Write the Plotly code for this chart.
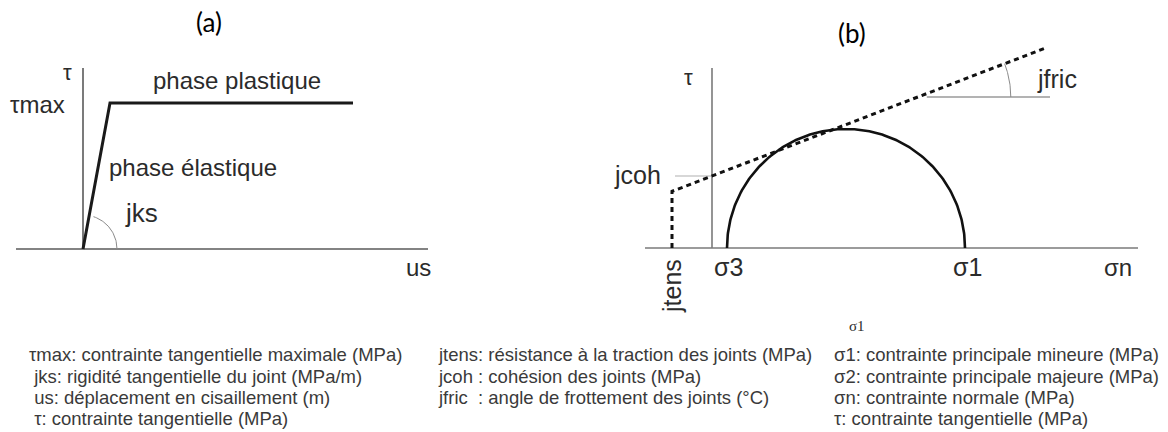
import numpy as np
import plotly.graph_objects as go

W, H = 1168, 432

# ---------------- Panel (a): tau vs us (diagram units) ----------------
a_us_axis = [-67, 345]
a_tau_axis = [0, 181]
a_us_curve = [0, 27, 270]
a_tau_curve = [0, 146, 146]
a_jks_radius = 34
a_jks_angle = 72

# ---------------- Panel (b): Mohr-Coulomb (diagram units) -------------
b_sn_axis = [-67, 426]
b_tau_axis = [0, 180]
sigma3 = 15
sigma1 = 253
jtens = -40
jcoh = 72
jfric_deg = 21
b_env_end = 335
b_jcoh_tick = [-37, 0]
b_jfric_level = 151
b_jfric_ref_end = 338
b_jfric_radius = 93

# Labels: text, x, y, anchor, size
a_labels = [
    ("τ", -16, 177, "center", 22),
    ("τmax", -46, 145, "center", 24),
    ("phase plastique", 154, 169, "center", 24),
    ("phase élastique", 24, 82, "left", 24),
    ("jks", 40, 36, "left", 26),
    ("us", 335, -18, "center", 24),
]
b_labels = [
    ("τ", -24, 171, "center", 22),
    ("jcoh", -75, 73, "center", 25),
    ("σ3", 16, -19, "center", 25),
    ("σ1", 255, -19, "center", 25),
    ("σn", 406, -19, "center", 24),
    ("jfric", 345, 169, "center", 25),
]
legend_col1 = ["τmax: contrainte tangentielle maximale (MPa)",
               " jks: rigidité tangentielle du joint (MPa/m)",
               " us: déplacement en cisaillement (m)",
               " τ: contrainte tangentielle (MPa)"]
legend_col2 = ["jtens: résistance à la traction des joints (MPa)",
               "jcoh : cohésion des joints (MPa)",
               "jfric  : angle de frottement des joints (°C)"]
legend_col3 = ["σ1: contrainte principale mineure (MPa)",
               "σ2: contrainte principale majeure (MPa)",
               "σn: contrainte normale (MPa)",
               "τ: contrainte tangentielle (MPa)"]
legend_x = [27, 436, 832]
legend_rows_y = [354, 376, 397, 418]

FONT = "Liberation Sans"
TXT = "#2b2b2b"
fig = go.Figure()

def line(x, y, ax, color, width, dash=None):
    xa, ya = ("x", "y") if ax == "a" else ("x2", "y2")
    fig.add_trace(go.Scatter(x=x, y=y, mode="lines", xaxis=xa, yaxis=ya,
                             line=dict(color=color, width=width, dash=dash),
                             hoverinfo="skip", showlegend=False))

# Panel (a)
line(a_us_axis, [0, 0], "a", "#5a5a5a", 1.6)
line([0, 0], a_tau_axis, "a", "#5a5a5a", 1.6)
t = np.radians(np.linspace(0, a_jks_angle, 40))
line(a_jks_radius * np.cos(t), a_jks_radius * np.sin(t), "a", "#8a8a8a", 1)
line(a_us_curve, a_tau_curve, "a", "#1a1a1a", 3)

# Panel (b)
line(b_sn_axis, [0, 0], "b", "#7a7a7a", 1.6)
line([0, 0], b_tau_axis, "b", "#7a7a7a", 1.6)
line(b_jcoh_tick, [jcoh, jcoh], "b", "#b0b0b0", 1.2)
tanf = np.tan(np.radians(jfric_deg))
cx = (b_jfric_level - jcoh) / tanf
line([cx + 9, b_jfric_ref_end], [b_jfric_level, b_jfric_level], "b", "#9a9a9a", 1.5)
t = np.radians(np.linspace(0, jfric_deg, 30))
line(cx + b_jfric_radius * np.cos(t), b_jfric_level + b_jfric_radius * np.sin(t), "b", "#8a8a8a", 1)
c = (sigma1 + sigma3) / 2
r = (sigma1 - sigma3) / 2
t = np.linspace(0, np.pi, 200)
line(c + r * np.cos(t), r * np.sin(t), "b", "#111111", 2.6)
line([jtens, jtens, b_env_end],
     [0, jcoh + tanf * jtens, jcoh + tanf * b_env_end], "b", "#111111", 3, "5px,4px")

ann = []
for txt, x, y, xa, s in a_labels:
    ann.append(dict(text=txt, x=x, y=y, xref="x", yref="y", xanchor=xa, yanchor="middle",
                    showarrow=False, font=dict(family=FONT, size=s, color=TXT)))
for txt, x, y, xa, s in b_labels:
    ann.append(dict(text=txt, x=x, y=y, xref="x2", yref="y2", xanchor=xa, yanchor="middle",
                    showarrow=False, font=dict(family=FONT, size=s, color=TXT)))
ann.append(dict(text="jtens", x=jtens, y=-38, xref="x2", yref="y2", textangle=-90,
                showarrow=False, font=dict(family=FONT, size=25, color=TXT)))
ann.append(dict(text="(a)", x=126, y=227, xref="x", yref="y", showarrow=False,
                font=dict(family="Lato", size=26, color="#000")))
ann.append(dict(text="(b)", x=140, y=215, xref="x2", yref="y2", showarrow=False,
                font=dict(family="Lato", size=26, color="#000")))
ann.append(dict(text="σ1", x=145, y=-78, xref="x2", yref="y2", showarrow=False,
                font=dict(family="Liberation Serif", size=15, color=TXT)))
for xc, col in zip(legend_x, [legend_col1, legend_col2, legend_col3]):
    for txt, yy in zip(col, legend_rows_y):
        ann.append(dict(text=txt, x=xc / W, y=1 - yy / H, xref="paper", yref="paper",
                        xanchor="left", yanchor="middle", showarrow=False,
                        font=dict(family=FONT, size=18.5, color="#3a3a3a")))

ax_common = dict(visible=False, fixedrange=True)
fig.update_layout(
    width=W, height=H, margin=dict(l=0, r=0, t=0, b=0),
    paper_bgcolor="white", plot_bgcolor="white",
    xaxis=dict(range=[-83, W - 83], domain=[0, 1], **ax_common),
    yaxis=dict(range=[-(H - 249), 249], domain=[0, 1], **ax_common),
    xaxis2=dict(range=[-712, W - 712], overlaying="x", **ax_common),
    yaxis2=dict(range=[-(H - 248), 248], overlaying="y", **ax_common),
    annotations=ann, showlegend=False,
)
fig.write_html("out.html", config={"displayModeBar": False},
               post_script="document.body.style.margin='0px';document.body.style.overflow='hidden';")
